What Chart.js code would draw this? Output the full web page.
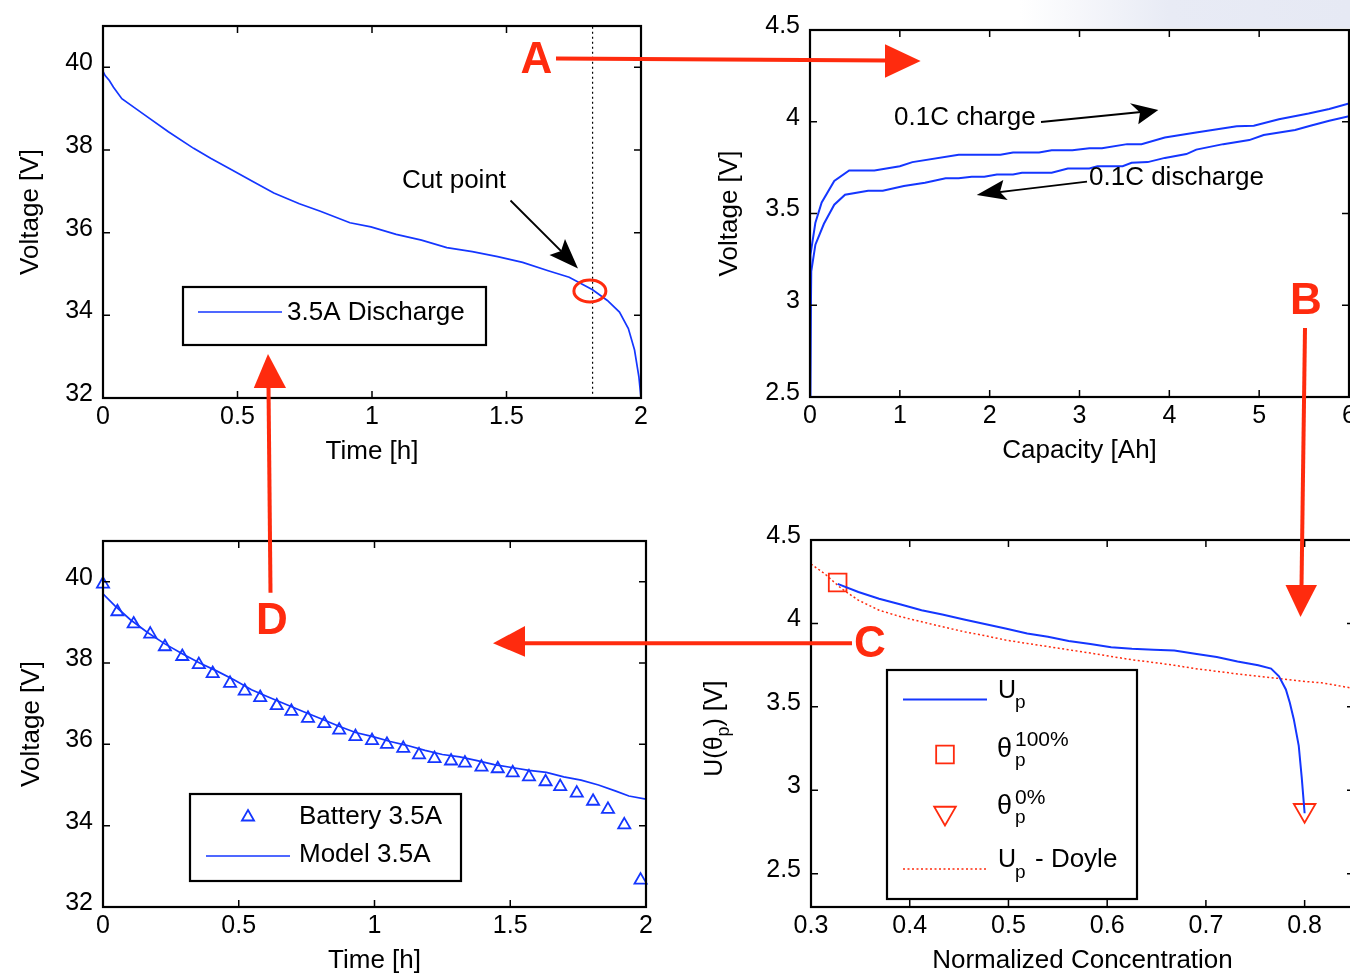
<!DOCTYPE html>
<html>
<head>
<meta charset="utf-8">
<script src="https://cdn.jsdelivr.net/npm/chart.js@4.4.1/dist/chart.umd.min.js"></script>
<style>
  html, body { margin: 0; padding: 0; background: #fff; width: 1350px; height: 975px; overflow: hidden; position: relative; }
  canvas { position: absolute; }
  #haze { position: absolute; left: 1020px; top: 0; width: 330px; height: 28px;
          background: linear-gradient(90deg, rgba(232,235,245,0) 0%, rgba(232,235,245,1) 45%, rgba(230,233,244,1) 100%); }
  #notes { position: absolute; left: 0; top: 0; }
</style>
</head>
<body>
<div id="haze"></div>
<canvas id="cvDischarge"></canvas>
<canvas id="cvCapacity"></canvas>
<canvas id="cvModel"></canvas>
<canvas id="cvOcp"></canvas>

<svg id="notes" width="1350" height="975" xmlns="http://www.w3.org/2000/svg">
  <g font-family="'Liberation Sans', Arial, Helvetica, sans-serif" font-size="26" fill="#000">
    <text x="402" y="188">Cut point</text>
    <text x="894" y="125">0.1C charge</text>
    <text x="1089" y="185">0.1C discharge</text>
  </g>
  <g stroke="#000" stroke-width="1.8" fill="none">
    <line x1="510.5" y1="200.5" x2="566" y2="256"/>
    <line x1="1041" y1="122" x2="1146" y2="111.5"/>
    <line x1="1087" y1="181.7" x2="988" y2="193.5"/>
  </g>
  <g fill="#000">
    <polygon points="578,268.5 549.5,255 561,251 565,239"/>
    <polygon points="1158.3,110 1130,103.3 1140,112.5 1138.3,124.3"/>
    <polygon points="976.7,195 1003.3,180 1000,192 1007.7,200"/>
  </g>
  <g stroke="#ff2b0e" stroke-width="4" fill="none">
    <line x1="556" y1="58.5" x2="887" y2="60.5"/>
    <line x1="1305" y1="328" x2="1301.5" y2="587"/>
    <line x1="852" y1="643.3" x2="523" y2="643.3"/>
    <line x1="270.5" y1="592.7" x2="268.5" y2="386"/>
  </g>
  <g fill="#ff2b0e">
    <polygon points="885,44.3 920.6,61 885,77.7"/>
    <polygon points="1285.5,585 1317,585 1300.5,617"/>
    <polygon points="525,626 493,643.3 525,656.7"/>
    <polygon points="253.8,388 286,388 268,354"/>
  </g>
  <g font-family="'Liberation Sans', Arial, Helvetica, sans-serif" font-size="44" font-weight="bold" fill="#ff2b0e" text-anchor="middle">
    <text x="536.5" y="72.7">A</text>
    <text x="1306" y="314">B</text>
    <text x="870" y="656.5">C</text>
    <text x="272" y="634">D</text>
  </g>
</svg>

<script>
// ---------- tick labels ----------
const timeTicks = [0, 0.5, 1, 1.5, 2];
const packVoltTicks = [32, 34, 36, 38, 40];
const capacityTicks = [0, 1, 2, 3, 4, 5, 6];
const cellVoltTicks = [2.5, 3, 3.5, 4, 4.5];
const concTicks = [0.3, 0.4, 0.5, 0.6, 0.7, 0.8];

// ---------- pack discharge at 3.5 A ----------
const dischargeTime = [0, 0.008, 0.0235, 0.039, 0.07, 0.118, 0.165, 0.243, 0.337, 0.4, 0.478, 0.557, 0.635, 0.73, 0.808, 0.918, 0.996, 1.09, 1.184, 1.278, 1.373, 1.467, 1.56, 1.655, 1.733, 1.78, 1.82, 1.875, 1.92, 1.953, 1.976, 1.992, 2.0];
const dischargeVolt = [39.9, 39.8, 39.68, 39.52, 39.24, 39.02, 38.8, 38.44, 38.04, 37.8, 37.52, 37.24, 36.96, 36.7, 36.52, 36.24, 36.14, 35.96, 35.82, 35.64, 35.54, 35.42, 35.28, 35.08, 34.92, 34.76, 34.62, 34.36, 34.08, 33.68, 33.16, 32.52, 32.0];
const cutLineTime = [1.82, 1.82];
const cutLineVolt = [32.1, 41];
const cutPoint = [1.81, 34.59];

// ---------- 0.1C charge / discharge of one cell ----------
const chargeCap = [0, 0.005, 0.06, 0.13, 0.27, 0.436, 0.717, 1.0, 1.14, 1.655, 2.12, 2.26, 2.55, 2.69, 2.92, 3.11, 3.25, 3.53, 3.69, 3.95, 4.28, 4.75, 4.94, 5.22, 5.55, 5.78, 6.0];
const chargeVolt = [2.5, 3.274, 3.45, 3.56, 3.677, 3.735, 3.735, 3.758, 3.78, 3.82, 3.82, 3.833, 3.833, 3.845, 3.845, 3.856, 3.856, 3.878, 3.878, 3.914, 3.94, 3.976, 3.978, 4.014, 4.045, 4.07, 4.1];
const dischargeCap = [0, 0.014, 0.06, 0.155, 0.27, 0.39, 0.647, 0.81, 1.045, 1.28, 1.51, 1.655, 1.8, 1.94, 2.08, 2.26, 2.36, 2.69, 2.87, 3.11, 3.2, 3.48, 3.58, 3.76, 3.95, 4.19, 4.3, 4.6, 4.89, 5.05, 5.4, 5.57, 5.78, 6.0];
const dischargeCellVolt = [2.5, 3.185, 3.33, 3.444, 3.548, 3.602, 3.624, 3.624, 3.65, 3.668, 3.692, 3.692, 3.7, 3.7, 3.713, 3.713, 3.722, 3.722, 3.745, 3.745, 3.758, 3.758, 3.776, 3.78, 3.803, 3.824, 3.848, 3.878, 3.9, 3.928, 3.955, 3.978, 4.005, 4.03];

// ---------- measured vs. model pack voltage ----------
const batteryTime = [0, 0.053, 0.113, 0.174, 0.228, 0.292, 0.353, 0.404, 0.468, 0.522, 0.579, 0.64, 0.694, 0.755, 0.815, 0.87, 0.93, 0.991, 1.046, 1.106, 1.164, 1.221, 1.282, 1.333, 1.394, 1.454, 1.509, 1.569, 1.63, 1.684, 1.745, 1.805, 1.86, 1.92, 1.98];
const batteryVolt = [39.94, 39.26, 38.96, 38.71, 38.4, 38.16, 37.96, 37.74, 37.5, 37.31, 37.15, 36.95, 36.81, 36.64, 36.51, 36.35, 36.19, 36.09, 36.0, 35.9, 35.74, 35.65, 35.59, 35.54, 35.44, 35.4, 35.3, 35.2, 35.08, 34.96, 34.8, 34.6, 34.4, 34.02, 32.66];
const modelTime = [0, 0.045, 0.1, 0.164, 0.228, 0.292, 0.356, 0.42, 0.484, 0.547, 0.611, 0.675, 0.739, 0.803, 0.867, 0.93, 0.994, 1.058, 1.122, 1.186, 1.25, 1.314, 1.378, 1.441, 1.505, 1.569, 1.633, 1.697, 1.761, 1.825, 1.889, 1.937, 2.0];
const modelVolt = [39.7, 39.4, 39.07, 38.75, 38.47, 38.23, 38.0, 37.8, 37.58, 37.34, 37.16, 36.98, 36.8, 36.63, 36.45, 36.29, 36.19, 36.07, 35.97, 35.85, 35.75, 35.69, 35.6, 35.5, 35.43, 35.36, 35.31, 35.2, 35.12, 35.0, 34.85, 34.73, 34.65];

// ---------- positive electrode open-circuit potential ----------
const upConc = [0.327, 0.348, 0.369, 0.391, 0.412, 0.433, 0.455, 0.476, 0.497, 0.519, 0.54, 0.561, 0.583, 0.604, 0.625, 0.647, 0.668, 0.689, 0.711, 0.732, 0.753, 0.766, 0.774, 0.781, 0.785, 0.789, 0.794, 0.797, 0.8];
const upVolt = [4.237, 4.188, 4.148, 4.113, 4.079, 4.053, 4.024, 3.996, 3.97, 3.94, 3.92, 3.895, 3.877, 3.857, 3.848, 3.842, 3.838, 3.818, 3.798, 3.772, 3.749, 3.729, 3.683, 3.604, 3.525, 3.426, 3.268, 3.08, 2.862];
const doyleConc = [0.3, 0.314, 0.331, 0.348, 0.369, 0.391, 0.412, 0.433, 0.455, 0.476, 0.497, 0.519, 0.54, 0.561, 0.583, 0.604, 0.625, 0.647, 0.668, 0.689, 0.711, 0.732, 0.753, 0.774, 0.796, 0.817, 0.85];
const doyleVolt = [4.356, 4.297, 4.208, 4.139, 4.079, 4.04, 4.01, 3.98, 3.95, 3.927, 3.9, 3.88, 3.861, 3.842, 3.822, 3.802, 3.782, 3.766, 3.749, 3.729, 3.713, 3.697, 3.683, 3.67, 3.654, 3.644, 3.61];
const theta100 = [0.327, 4.245];
const theta0 = [0.8, 2.88];

// ---------- drawing ----------
const BLUE = '#1436ff';
const RED = '#ff2b0e';
const FONT = "'Liberation Sans', Arial, Helvetica, sans-serif";
Chart.defaults.font.family = FONT;
Chart.defaults.color = '#000';

const pts = (xs, ys) => xs.map((v, i) => ({ x: v, y: ys[i] }));

function drawParts(ctx, parts, x0, y0) {
  let cx = x0;
  for (const p of parts) {
    const px = p.x !== undefined ? p.x : cx;
    ctx.font = p.size + 'px ' + FONT;
    ctx.fillText(p.t, px, (p.y !== undefined ? p.y : y0) + (p.dy || 0));
    cx = px + ctx.measureText(p.t).width;
  }
}

// boxed axes with inward tick marks on all four sides
const matFrame = {
  id: 'matFrame',
  afterDatasetsDraw(chart, args, opts) {
    const { ctx, chartArea: a, scales: { x, y } } = chart;
    ctx.save();
    if (opts.ellipse) {
      const e = opts.ellipse;
      ctx.strokeStyle = RED;
      ctx.lineWidth = 3;
      ctx.beginPath();
      ctx.ellipse(x.getPixelForValue(e.x), y.getPixelForValue(e.y), e.rx, e.ry, 0, 0, Math.PI * 2);
      ctx.stroke();
    }
    ctx.strokeStyle = '#000';
    ctx.lineWidth = 1.5;
    const L = 7;
    ctx.beginPath();
    x.ticks.forEach(t => {
      const p = x.getPixelForValue(t.value);
      ctx.moveTo(p, a.bottom); ctx.lineTo(p, a.bottom - L);
      ctx.moveTo(p, a.top); ctx.lineTo(p, a.top + L);
    });
    y.ticks.forEach(t => {
      const p = y.getPixelForValue(t.value);
      ctx.moveTo(a.left, p); ctx.lineTo(a.left + L, p);
      ctx.moveTo(a.right, p); ctx.lineTo(a.right - L, p);
    });
    ctx.stroke();
    ctx.lineWidth = 2.2;
    ctx.strokeRect(a.left, a.top, a.right - a.left, a.bottom - a.top);
    ctx.restore();
  }
};

// boxed legend whose swatches reuse the dataset styles
const boxLegend = {
  id: 'boxLegend',
  afterDraw(chart, args, o) {
    if (!o.box) return;
    const ctx = chart.ctx;
    const ox = o.origin.x, oy = o.origin.y;
    ctx.save();
    const [l, t, r, b] = o.box;
    ctx.fillStyle = '#fff';
    ctx.fillRect(l - ox, t - oy, r - l, b - t);
    ctx.strokeStyle = '#000';
    ctx.lineWidth = 2.2;
    ctx.strokeRect(l - ox, t - oy, r - l, b - t);
    o.swatches.forEach(s => {
      const ds = chart.data.datasets[s.ds];
      if (s.kind === 'line') {
        ctx.strokeStyle = ds.borderColor;
        ctx.lineWidth = ds.borderWidth;
        ctx.setLineDash(ds.borderDash || []);
        ctx.beginPath();
        ctx.moveTo(s.x1 - ox, s.y - oy);
        ctx.lineTo(s.x2 - ox, s.y - oy);
        ctx.stroke();
        ctx.setLineDash([]);
      } else {
        ctx.strokeStyle = ds.pointBorderColor;
        ctx.fillStyle = 'rgba(0,0,0,0)';
        ctx.lineWidth = ds.pointBorderWidth;
        Chart.helpers.drawPoint(ctx, {
          pointStyle: ds.pointStyle, radius: ds.pointRadius,
          rotation: ds.pointRotation || 0, borderWidth: ds.pointBorderWidth
        }, s.x - ox, s.y - oy);
      }
    });
    ctx.fillStyle = '#000';
    ctx.textBaseline = 'alphabetic';
    ctx.textAlign = 'left';
    o.texts.forEach(tx => drawParts(ctx, [{ t: tx.t, size: tx.size, x: tx.x - ox, y: tx.y - oy }], 0, 0));
    ctx.restore();
  }
};

// rotated y-axis title with a subscript
const richTitle = {
  id: 'richTitle',
  afterDraw(chart, args, o) {
    if (!o.parts) return;
    const ctx = chart.ctx;
    ctx.save();
    ctx.translate(o.x - o.origin.x, o.y - o.origin.y);
    ctx.rotate(-Math.PI / 2);
    ctx.fillStyle = '#000';
    ctx.textBaseline = 'alphabetic';
    ctx.textAlign = 'left';
    drawParts(ctx, o.parts, 0, 0);
    ctx.restore();
  }
};

function axis(min, max, tickVals, opts) {
  const isY = opts.isY;
  const yw = opts.yw || 100;
  const cfg = {
    type: 'linear', min, max,
    afterBuildTicks: s => { s.ticks = tickVals.map(v => ({ value: v })); },
    afterFit: s => { if (isY) s.width = yw; else s.height = 75; },
    grid: { display: false, drawTicks: false },
    border: { display: false },
    ticks: {
      color: '#000', font: { size: 25 }, autoSkip: false, maxRotation: 0,
      padding: isY ? 10 : 4, labelOffset: isY ? -4 : 0,
      callback: v => String(v)
    },
    title: { display: false }
  };
  if (opts.title) {
    cfg.title = {
      display: true, text: opts.title, color: '#000', font: { size: 26 },
      padding: isY ? { top: opts.pad, bottom: 0 } : { top: 0, bottom: opts.pad }
    };
  }
  return cfg;
}

function makePanel(id, g, xAxis, yAxis, datasets, pluginOpts) {
  const cv = document.getElementById(id);
  const yw = g.yw || 100;
  const cl = g.l - yw, ct = g.t - 22;
  const w = Math.round(g.r - g.l + yw + 15), h = Math.round(g.b - g.t + 97);
  cv.width = w; cv.height = h;
  cv.style.left = cl + 'px'; cv.style.top = ct + 'px';
  cv.style.width = w + 'px'; cv.style.height = h + 'px';
  const origin = { x: cl, y: ct };
  const plugins = { legend: { display: false }, tooltip: { enabled: false } };
  if (pluginOpts.frame) plugins.matFrame = pluginOpts.frame;
  if (pluginOpts.legend) plugins.boxLegend = Object.assign({ origin }, pluginOpts.legend);
  if (pluginOpts.title) plugins.richTitle = Object.assign({ origin }, pluginOpts.title);
  return new Chart(cv, {
    type: 'scatter',
    data: { datasets },
    options: {
      responsive: false, animation: false, devicePixelRatio: 1,
      layout: { padding: { left: 0, top: 22, right: 15, bottom: 0 } },
      elements: { line: { tension: 0 }, point: { radius: 0 } },
      plugins,
      scales: { x: xAxis, y: yAxis }
    },
    plugins: [matFrame, boxLegend, richTitle]
  });
}

const lineSet = (label, xs, ys, color, width, dash) => ({
  label, data: pts(xs, ys), showLine: true, borderColor: color, borderWidth: width,
  borderDash: dash || [], pointRadius: 0, fill: false
});
const markSet = (label, xs, ys, color, style, radius, rotation) => ({
  label, data: pts(xs, ys), showLine: false, pointStyle: style, pointRadius: radius,
  pointRotation: rotation || 0, pointBorderColor: color, pointBackgroundColor: 'rgba(0,0,0,0)',
  pointBorderWidth: 1.8, clip: false
});

// top left: pack discharge
makePanel('cvDischarge', { l: 103, t: 23, r: 641, b: 398 },
  axis(0, 2, timeTicks, { title: 'Time [h]', pad: 6 }),
  axis(32, 41, packVoltTicks, { isY: true, title: 'Voltage [V]', pad: 12 }),
  [
    lineSet('3.5A Discharge', dischargeTime, dischargeVolt, BLUE, 1.7),
    lineSet('cut', cutLineTime, cutLineVolt, '#000', 1.2, [2, 3])
  ],
  {
    frame: { ellipse: { x: cutPoint[0], y: cutPoint[1], rx: 16, ry: 11 } },
    legend: {
      box: [183, 287, 486, 345],
      swatches: [{ ds: 0, kind: 'line', x1: 198, x2: 282, y: 312 }],
      texts: [{ t: '3.5A Discharge', x: 287, y: 320, size: 26 }]
    }
  });

// top right: 0.1C charge / discharge
makePanel('cvCapacity', { l: 810, t: 27, r: 1349, b: 397 },
  axis(0, 6, capacityTicks, { title: 'Capacity [Ah]', pad: 6 }),
  axis(2.5, 4.5, cellVoltTicks, { isY: true, title: 'Voltage [V]', pad: 4 }),
  [
    lineSet('0.1C charge', chargeCap, chargeVolt, BLUE, 2),
    lineSet('0.1C discharge', dischargeCap, dischargeCellVolt, BLUE, 2)
  ],
  { frame: {} });

// bottom left: measured vs model
makePanel('cvModel', { l: 103, t: 538, r: 646, b: 907 },
  axis(0, 2, timeTicks, { title: 'Time [h]', pad: 6 }),
  axis(32, 41, packVoltTicks, { isY: true, title: 'Voltage [V]', pad: 13 }),
  [
    markSet('Battery 3.5A', batteryTime, batteryVolt, BLUE, 'triangle', 7),
    lineSet('Model 3.5A', modelTime, modelVolt, BLUE, 1.7)
  ],
  {
    frame: {},
    legend: {
      box: [190, 794, 461, 881],
      swatches: [
        { ds: 0, kind: 'point', x: 248, y: 817 },
        { ds: 1, kind: 'line', x1: 206, x2: 290, y: 856 }
      ],
      texts: [
        { t: 'Battery 3.5A', x: 299, y: 823.5, size: 26 },
        { t: 'Model 3.5A', x: 299, y: 862, size: 26 }
      ]
    }
  });

// bottom right: positive electrode potential
makePanel('cvOcp', { l: 811, t: 537, r: 1354, b: 907, yw: 130 },
  axis(0.3, 0.85, concTicks, { title: 'Normalized Concentration', pad: 6 }),
  axis(2.3, 4.5, cellVoltTicks, { isY: true, yw: 130 }),
  [
    lineSet('Up', upConc, upVolt, BLUE, 2),
    markSet('theta100', [theta100[0]], [theta100[1]], RED, 'rect', 12.5),
    markSet('theta0', [theta0[0]], [theta0[1]], RED, 'triangle', 12.5, 180),
    lineSet('Up - Doyle', doyleConc, doyleVolt, RED, 1.5, [2, 2.5])
  ],
  {
    frame: {},
    title: {
      x: 722, y: 776.7,
      parts: [
        { t: 'U(θ', size: 25 },
        { t: 'p', size: 18, dy: 7 },
        { t: ') [V]', size: 25 }
      ]
    },
    legend: {
      box: [887, 670, 1137, 899],
      swatches: [
        { ds: 0, kind: 'line', x1: 903, x2: 987, y: 699.5 },
        { ds: 1, kind: 'point', x: 945, y: 754.5 },
        { ds: 2, kind: 'point', x: 945, y: 813 },
        { ds: 3, kind: 'line', x1: 903, x2: 987, y: 869 }
      ],
      texts: [
        { t: 'U', x: 998, y: 697.5, size: 25 },
        { t: 'p', x: 1015, y: 708, size: 19 },
        { t: 'θ', x: 997, y: 757, size: 27 },
        { t: '100%', x: 1015, y: 746, size: 21 },
        { t: 'p', x: 1015, y: 766, size: 19 },
        { t: 'θ', x: 997, y: 814, size: 27 },
        { t: '0%', x: 1015, y: 804, size: 21 },
        { t: 'p', x: 1015, y: 823, size: 19 },
        { t: 'U', x: 998, y: 867, size: 25 },
        { t: 'p', x: 1015, y: 878, size: 19 },
        { t: '- Doyle', x: 1035, y: 867, size: 26 }
      ]
    }
  });
</script>
</body>
</html>
